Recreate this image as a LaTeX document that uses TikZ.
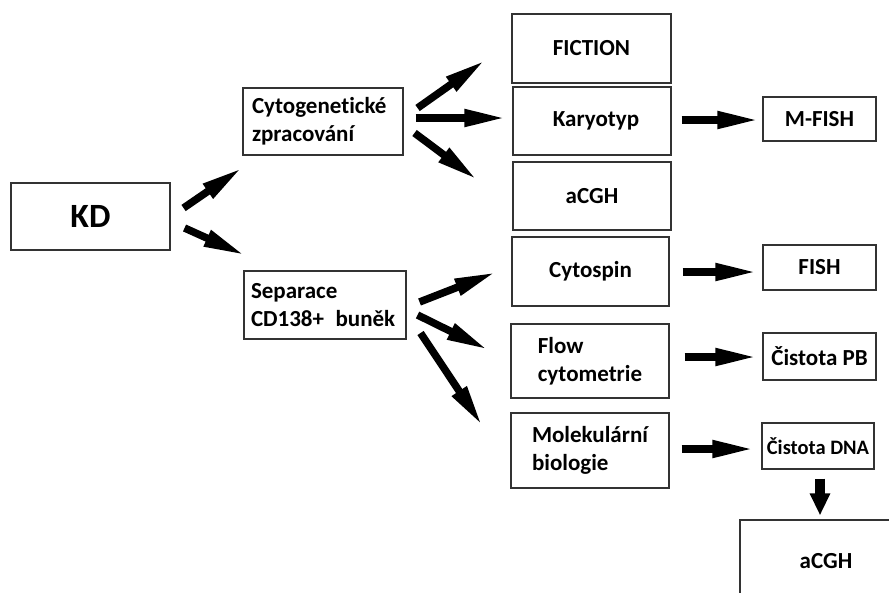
\documentclass[tikz,border=0pt]{standalone}
\usepackage{fontspec}
\setmainfont{Carlito}[Ligatures=NoCommon]
\usetikzlibrary{arrows.meta}

\tikzset{
  box/.style={draw=black!80, line width=1.1pt, fill=white, inner sep=0pt,
    font=\fontsize{23}{28}\selectfont\bfseries, align=left},
  smallbox/.style={box, minimum width=113pt},
  fatarrow/.style={line width=7.5pt, -{Triangle[length=42pt,width=16pt]}},
  downarrow/.style={line width=10pt, -{Triangle[length=22pt,width=19pt]}}
}

\begin{document}
\begin{tikzpicture}[x=1pt, y=-1pt]
		\useasboundingbox (0,0) rectangle (889,592);
		\clip (0,0) rectangle (889,592); % the last box runs off the page

		% first column
		\node[box, minimum width=159pt, minimum height=67pt, font=\fontsize{34}{40}\selectfont\bfseries] (kd) at (90.5,216.5) {KD};

		% second column
		\node[box, minimum width=160pt, minimum height=67pt, text width=142pt] (cyto) at (323,121.5) {Cytogenetické\\zpracování};
		\node[box, minimum width=162pt, minimum height=68pt, text width=148pt] (sep) at (325,305) {Separace\\CD138+ \,buněk};

		% third column
		\node[box, minimum width=159pt, minimum height=69pt] (fiction) at (591.5,48.5) {FICTION};
		\node[box, minimum width=158pt, minimum height=68pt] (karyo) at (592,121) {\hspace{8pt}Karyotyp};
		\node[box, minimum width=158pt, minimum height=68pt] (acgh) at (592,196) {aCGH};
		\node[box, minimum width=157pt, minimum height=69pt] (cytospin) at (590.5,271.5) {Cytospin};
		\node[box, minimum width=158pt, minimum height=74pt] (flow) at (590,361) {Flow\\cytometrie};
		\node[box, minimum width=158pt, minimum height=75pt] (molek) at (590,450.5) {Molekulární\\biologie};

		% fourth column
		\node[smallbox, minimum height=44pt] (mfish) at (819.5,119) {M-FISH};
		\node[smallbox, minimum height=45pt] (fish) at (819.5,267.5) {FISH};
		\node[smallbox, minimum height=47pt] (pb) at (819.5,356.5) {Čistota PB};
		\node[smallbox, minimum width=112pt, minimum height=46pt, font=\fontsize{20.5}{24}\selectfont\bfseries] (dna) at (818,446) {Čistota DNA};
		\node[box, minimum width=172pt, minimum height=82pt] (acghdna) at (826,561) {aCGH};

		% arrows
		\draw[fatarrow] ([shift={(13,-8.5)}]kd.east) -- ([shift={(0,12)}]cyto.south west);
		\draw[fatarrow] ([shift={(14,11.5)}]kd.east) -- ([shift={(2,-15)}]sep.north west);

		\draw[fatarrow] ([shift={(14,-13.5)}]cyto.east) -- ([shift={(-26,11.5)}]fiction.west);
		\draw[fatarrow] ([shift={(12,-3.5)}]cyto.east) -- ([shift={(-6,-3)}]karyo.west);
		\draw[fatarrow] ([shift={(11,11.5)}]cyto.east) -- ([shift={(-35,-16)}]acgh.west);

		\draw[fatarrow] ([shift={(13,-3)}]sep.east) -- ([shift={(-15,0.5)}]cytospin.west);
		\draw[fatarrow] ([shift={(11,10)}]sep.east) -- ([shift={(-22,-11)}]flow.west);
		\draw[fatarrow] ([shift={(14,28)}]sep.east) -- ([shift={(-28,-24.5)}]molek.west);

		\draw[fatarrow] ([shift={(10,-1)}]karyo.east) -- ([shift={(-3,1)}]mfish.west);
		\draw[fatarrow] ([shift={(13,0.5)}]cytospin.east) -- ([shift={(-5,4.5)}]fish.west);
		\draw[fatarrow] ([shift={(15,-4)}]flow.east) -- ([shift={(-5,0.5)}]pb.west);
		\draw[fatarrow] ([shift={(12,-1.5)}]molek.east) -- ([shift={(-7,3)}]dna.west);
		\draw[downarrow] ([shift={(2,9)}]dna.south) -- ([shift={(-6,-4)}]acghdna.north);
\end{tikzpicture}
\end{document}
